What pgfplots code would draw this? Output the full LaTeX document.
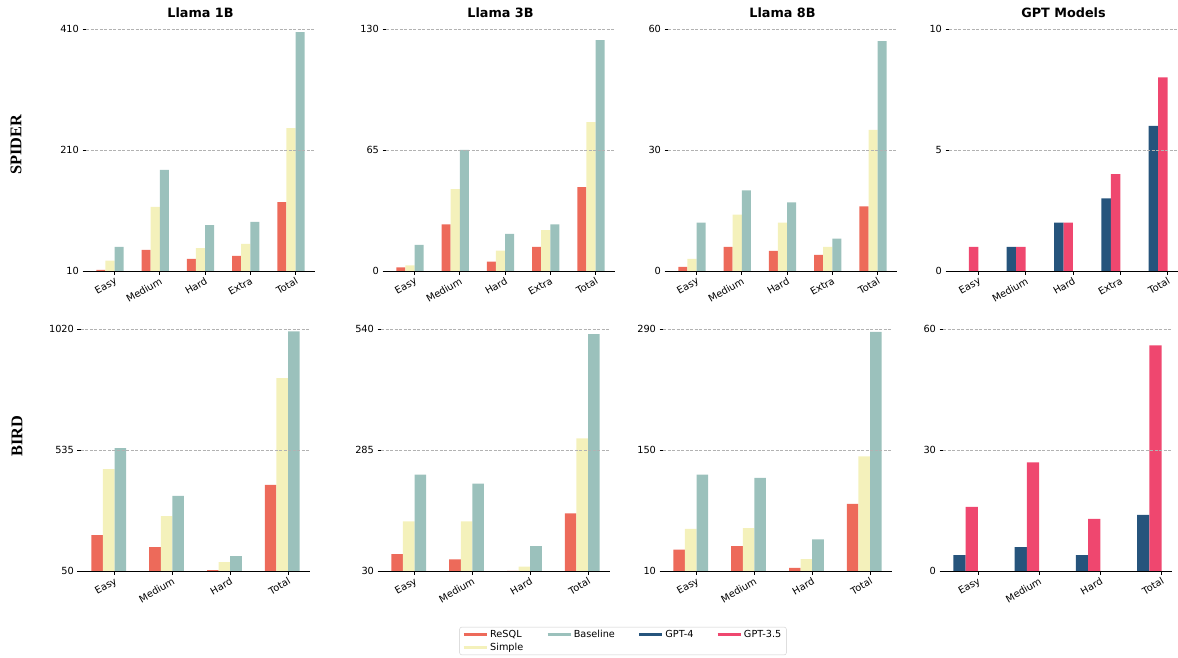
\documentclass[border=0pt]{standalone}
\usepackage{pgfplots}
\pgfplotsset{compat=1.18}
\usepackage{fontspec}
\setmainfont{DejaVu Sans}
\newfontfamily\rowfont{Liberation Serif}
\definecolor{colresql}{HTML}{ED6A5A}
\definecolor{colsimple}{HTML}{F4F1BB}
\definecolor{colbase}{HTML}{9BC1BC}
\definecolor{colgptfour}{HTML}{26547C}
\definecolor{colgptthree}{HTML}{EF476F}
\pgfplotsset{
  panel/.style={
    scale only axis, width=229pt, height=242pt,
    axis on top,
    axis x line*=bottom, axis y line*=left,
    axis line style={-, black, line width=0.8pt},
    y axis line style={draw=none},
    tick align=outside, major tick length=3.5pt,
    every tick/.style={black, line width=0.8pt},
    ymajorgrids, major grid style={dash pattern=on 3pt off 1.5pt, line width=0.6pt, color=black!30},
    xtick={0,...,4},
    xticklabel style={rotate=30, anchor=north east, inner sep=1.5pt, font=\fontsize{9.8}{11}\selectfont},
    yticklabel style={font=\fontsize{9.8}{11}\selectfont},
    scaled y ticks=false,
    /pgf/number format/assume math mode=true,
    /pgf/number format/1000 sep={},
    title style={font=\bfseries\fontsize{12.8}{15}\selectfont, yshift=1.5pt},
  },
  bar/.style={ybar, bar width=0.2, draw=none},
}
\begin{document}
\begin{tikzpicture}
\useasboundingbox (0,0) rectangle (1178pt,657pt);
% ---------- Row 1: SPIDER ----------
\begin{axis}[panel, at={(86pt,386pt)}, anchor=south west, title={Llama 1B},
  xmin=-0.63, xmax=4.43, ymin=10, ymax=410, ytick={10,210,410},
  xticklabels={Easy,Medium,Hard,Extra,Total}]
\addplot[bar, bar shift=-0.3, fill=colresql] coordinates {(0,12) (1,45) (2,30) (3,35) (4,124)};
\addplot[bar, bar shift=-0.1, fill=colsimple] coordinates {(0,27) (1,116) (2,48) (3,55) (4,246)};
\addplot[bar, bar shift=0.1, fill=colbase] coordinates {(0,50) (1,177) (2,86) (3,91) (4,405)};
\end{axis}
\begin{axis}[panel, at={(386pt,386pt)}, anchor=south west, title={Llama 3B},
  xmin=-0.63, xmax=4.43, ymin=0, ymax=130, ytick={0,65,130},
  xticklabels={Easy,Medium,Hard,Extra,Total}]
\addplot[bar, bar shift=-0.3, fill=colresql] coordinates {(0,2) (1,25) (2,5) (3,13) (4,45)};
\addplot[bar, bar shift=-0.1, fill=colsimple] coordinates {(0,3) (1,44) (2,11) (3,22) (4,80)};
\addplot[bar, bar shift=0.1, fill=colbase] coordinates {(0,14) (1,65) (2,20) (3,25) (4,124)};
\end{axis}
\begin{axis}[panel, at={(668pt,386pt)}, anchor=south west, title={Llama 8B},
  xmin=-0.63, xmax=4.43, ymin=0, ymax=60, ytick={0,30,60},
  xticklabels={Easy,Medium,Hard,Extra,Total}]
\addplot[bar, bar shift=-0.3, fill=colresql] coordinates {(0,1) (1,6) (2,5) (3,4) (4,16)};
\addplot[bar, bar shift=-0.1, fill=colsimple] coordinates {(0,3) (1,14) (2,12) (3,6) (4,35)};
\addplot[bar, bar shift=0.1, fill=colbase] coordinates {(0,12) (1,20) (2,17) (3,8) (4,57)};
\end{axis}
\begin{axis}[panel, at={(949pt,386pt)}, anchor=south west, title={GPT Models},
  xmin=-0.62, xmax=4.22, ymin=0, ymax=10, ytick={0,5,10},
  xticklabels={Easy,Medium,Hard,Extra,Total}]
\addplot[bar, bar shift=-0.3, fill=colgptfour] coordinates {(0,0) (1,1) (2,2) (3,3) (4,6)};
\addplot[bar, bar shift=-0.1, fill=colgptthree] coordinates {(0,1) (1,1) (2,2) (3,4) (4,8)};
\end{axis}
% ---------- Row 2: BIRD ----------
\begin{axis}[panel, at={(81pt,85.7pt)}, anchor=south west,
  xmin=-0.58, xmax=3.38, ymin=50, ymax=1020, ytick={50,535,1020},
  xtick={0,...,3}, xticklabels={Easy,Medium,Hard,Total}]
\addplot[bar, bar shift=-0.3, fill=colresql] coordinates {(0,195) (1,147) (2,55) (3,396)};
\addplot[bar, bar shift=-0.1, fill=colsimple] coordinates {(0,460) (1,271) (2,87) (3,824)};
\addplot[bar, bar shift=0.1, fill=colbase] coordinates {(0,544) (1,352) (2,111) (3,1012)};
\end{axis}
\begin{axis}[panel, at={(381pt,85.7pt)}, anchor=south west,
  xmin=-0.58, xmax=3.38, ymin=30, ymax=540, ytick={30,285,540},
  xtick={0,...,3}, xticklabels={Easy,Medium,Hard,Total}]
\addplot[bar, bar shift=-0.3, fill=colresql] coordinates {(0,66) (1,55) (2,31) (3,152)};
\addplot[bar, bar shift=-0.1, fill=colsimple] coordinates {(0,135) (1,135) (2,40) (3,310)};
\addplot[bar, bar shift=0.1, fill=colbase] coordinates {(0,234) (1,215) (2,83) (3,530)};
\end{axis}
\begin{axis}[panel, at={(663pt,85.7pt)}, anchor=south west,
  xmin=-0.58, xmax=3.38, ymin=10, ymax=290, ytick={10,150,290},
  xtick={0,...,3}, xticklabels={Easy,Medium,Hard,Total}]
\addplot[bar, bar shift=-0.3, fill=colresql] coordinates {(0,35) (1,39) (2,14) (3,88)};
\addplot[bar, bar shift=-0.1, fill=colsimple] coordinates {(0,59) (1,60) (2,24) (3,143)};
\addplot[bar, bar shift=0.1, fill=colbase] coordinates {(0,122) (1,118) (2,47) (3,287)};
\end{axis}
\begin{axis}[panel, at={(943pt,85.7pt)}, anchor=south west,
  xmin=-0.57, xmax=3.17, ymin=0, ymax=60, ytick={0,30,60},
  xtick={0,...,3}, xticklabels={Easy,Medium,Hard,Total}]
\addplot[bar, bar shift=-0.3, fill=colgptfour] coordinates {(0,4) (1,6) (2,4) (3,14)};
\addplot[bar, bar shift=-0.1, fill=colgptthree] coordinates {(0,16) (1,27) (2,13) (3,56)};
\end{axis}
% ---------- Row labels ----------
\node[rotate=90, font=\rowfont\bfseries\fontsize{16.3}{18}\selectfont] at (16pt,512pt) {SPIDER};
\node[rotate=90, font=\rowfont\bfseries\fontsize{16.3}{18}\selectfont] at (17pt,221pt) {BIRD};
% ---------- Legend ----------
\begin{axis}[at={(623pt,16pt)}, anchor=center, hide axis, scale only axis,
  width=10pt, height=10pt, xmin=0, xmax=1, ymin=0, ymax=1,
  legend columns=4, legend cell align=left,
  legend image code/.code={\draw[#1, line width=2.5pt] (0pt,0pt) -- (23pt,0pt);},
  legend style={at={(0.5,0.5)}, anchor=center, draw=black!20, rounded corners=2pt,
    font=\fontsize{9.7}{11}\selectfont, inner xsep=3pt, inner ysep=1pt,
    /tikz/every even column/.append style={column sep=21pt}}]
\addlegendimage{colresql}\addlegendentry{ReSQL}
\addlegendimage{colbase}\addlegendentry{Baseline}
\addlegendimage{colgptfour}\addlegendentry{GPT-4}
\addlegendimage{colgptthree}\addlegendentry{GPT-3.5}
\addlegendimage{colsimple}\addlegendentry{Simple}
\end{axis}
\end{tikzpicture}
\end{document}
